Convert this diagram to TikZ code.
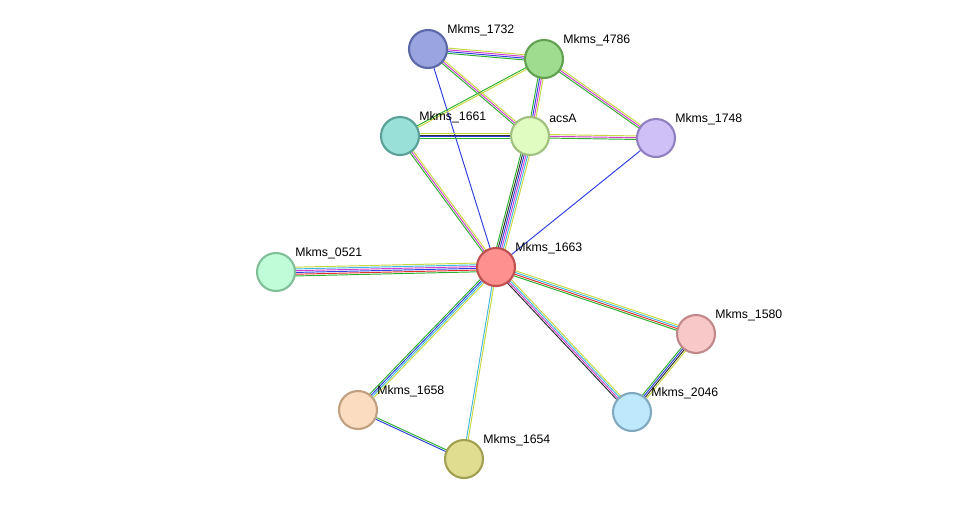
\documentclass[tikz,border=0pt]{standalone}
\usepackage{fontspec}
\setmainfont{Liberation Sans}
\usetikzlibrary{calc}

\definecolor{tm}{HTML}{C8D840}
\definecolor{nb}{HTML}{30B030}
\definecolor{fu}{HTML}{E03030}
\definecolor{co}{HTML}{3040E0}
\definecolor{ex}{HTML}{D040D0}
\definecolor{db}{HTML}{40B8E0}
\definecolor{cx}{HTML}{303030}

\definecolor{f1732}{HTML}{9AA5E0}\definecolor{d1732}{HTML}{5A68A8}
\definecolor{f4786}{HTML}{A0DC90}\definecolor{d4786}{HTML}{60A050}
\definecolor{f1661}{HTML}{98E0D8}\definecolor{d1661}{HTML}{58A098}
\definecolor{facsA}{HTML}{E0FCC0}\definecolor{dacsA}{HTML}{A0C080}
\definecolor{f1748}{HTML}{D0C0F8}\definecolor{d1748}{HTML}{9080C0}
\definecolor{f0521}{HTML}{C0FCD8}\definecolor{d0521}{HTML}{80C098}
\definecolor{f1663}{HTML}{FF9090}\definecolor{d1663}{HTML}{C05050}
\definecolor{f1580}{HTML}{F8C8C8}\definecolor{d1580}{HTML}{C08888}
\definecolor{f1658}{HTML}{FCDCC0}\definecolor{d1658}{HTML}{C0A080}
\definecolor{f2046}{HTML}{C0E8FC}\definecolor{d2046}{HTML}{80A8C0}
\definecolor{f1654}{HTML}{E0DC90}\definecolor{d1654}{HTML}{A0A050}

\tikzset{
  prot/.style={circle, minimum size=0.76cm, line width=1.2pt, fill=f#1, draw=d#1, inner sep=0pt},
  lbl/.style={font=\fontsize{7}{8}\selectfont, inner sep=1pt},
  evid/.style={line width=0.55pt}
}

% parallel evidence lines between two nodes
\newcommand\evidence[3]{%
  \foreach \c [count=\k] in {#3}{\global\let\ncol\k}
  \foreach \c [count=\i] in {#3}{%
    \pgfmathsetmacro\o{(\i-(\ncol+1)/2)*1.0}
    \draw[evid, \c] ($(#1)!\o pt!90:(#2)$) -- ($(#2)!\o pt!-90:(#1)$);
  }}

\begin{document}
\begin{tikzpicture}[x=0.02cm, y=-0.02cm]
  \useasboundingbox (0,0) rectangle (976,505);

  % anchor points
  \coordinate (p1732) at (428,49);
  \coordinate (p4786) at (544,59);
  \coordinate (p1661) at (400,136);
  \coordinate (pacsA) at (530,136);
  \coordinate (p1748) at (656,138);
  \coordinate (p0521) at (276,272);
  \coordinate (p1663) at (496,267);
  \coordinate (p1580) at (696,334);
  \coordinate (p1658) at (358,410);
  \coordinate (p2046) at (632,412);
  \coordinate (p1654) at (464,459);

  % edges
  \evidence{p1732}{p4786}{nb,co,ex,tm}
  \evidence{p1732}{pacsA}{nb,ex,tm}
  \evidence{p1732}{p1663}{co}
  \evidence{p4786}{p1661}{nb,tm}
  \evidence{p4786}{pacsA}{nb,co,ex,tm}
  \evidence{p4786}{p1748}{nb,ex,tm}
  \evidence{p1661}{pacsA}{nb,co,cx,tm}
  \evidence{pacsA}{p1748}{nb,ex,tm}
  \evidence{pacsA}{p1663}{nb,cx,co,ex,db,tm}
  \evidence{p1661}{p1663}{nb,ex,tm}
  \evidence{p1748}{p1663}{co}
  \evidence{p0521}{p1663}{nb,fu,co,ex,db,tm}
  \evidence{p1663}{p1580}{nb,fu,db,tm}
  \evidence{p1663}{p2046}{cx,ex,db,tm}
  \evidence{p1663}{p1658}{nb,co,db,tm}
  \evidence{p1663}{p1654}{db,tm}
  \evidence{p1658}{p1654}{co,nb}
  \evidence{p1580}{p2046}{nb,co,cx,tm}

  % proteins and labels
  \foreach \n/\t in {1732/Mkms\_1732, 4786/Mkms\_4786, 1661/Mkms\_1661, acsA/acsA,
                     1748/Mkms\_1748, 0521/Mkms\_0521, 1663/Mkms\_1663, 1580/Mkms\_1580,
                     1658/Mkms\_1658, 2046/Mkms\_2046, 1654/Mkms\_1654}{
    \node[prot=\n] (n\n) at (p\n) {};
    \node[lbl, anchor=south west] (l\n) at ([shift={(3,3)}]n\n.north east) {\t};
  }
\end{tikzpicture}
\end{document}
